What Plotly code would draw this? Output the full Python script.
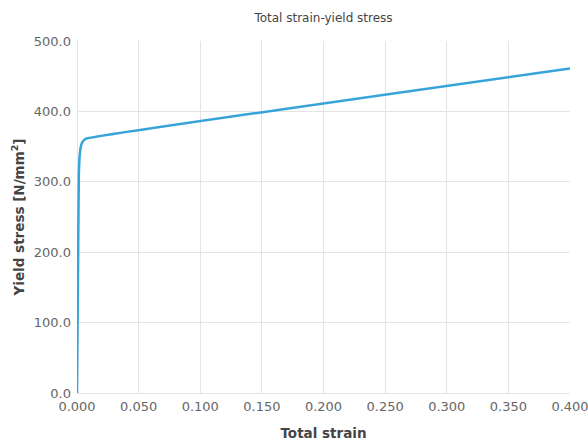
import plotly.graph_objects as go

strain = [0.0, 0.0010, 0.0015, 0.0020, 0.0025, 0.0030, 0.0040, 0.0055, 0.0070, 0.400]
stress = [0.0, 210.0, 312.0, 333.0, 343.0, 349.0, 355.0, 359.0, 361.0, 461.0]

x_ticks = [0.0, 0.05, 0.10, 0.15, 0.20, 0.25, 0.30, 0.35, 0.40]
y_ticks = [0.0, 100.0, 200.0, 300.0, 400.0, 500.0]

fig = go.Figure()
fig.add_trace(go.Scatter(x=strain, y=stress, mode="lines",
                         line=dict(color="#36a3db", width=2.5, shape="spline", smoothing=0.4),
                         showlegend=False))

font_family = "DejaVu Sans"
grid = "#e4e4e4"
fig.update_layout(
    width=588, height=441,
    margin=dict(l=77, r=18, t=41, b=48),
    paper_bgcolor="white", plot_bgcolor="white",
    font=dict(family=font_family, color="#555555", size=12),
    title=dict(text="Total strain-yield stress", x=(77 + 570) / 2 / 588, xanchor="center",
               y=1 - 18 / 441, yanchor="middle",
               font=dict(size=12, color="#444444", family=font_family)),
    xaxis=dict(range=[0, 0.4], tickvals=x_ticks, tickformat=".3f",
               showgrid=True, gridcolor=grid, gridwidth=1,
               zeroline=True, zerolinecolor=grid, zerolinewidth=1,
               showline=False, ticks="", ticklabelstandoff=4,
               ticklabeloverflow="allow", automargin=False,
               tickfont=dict(size=13, color="#666666"),
               title=dict(text="<b>Total strain</b>",
                          font=dict(size=13.5, color="#444444"))),
    yaxis=dict(range=[0, 500], tickvals=y_ticks, tickformat=".1f",
               showgrid=True, gridcolor=grid, gridwidth=1,
               zeroline=True, zerolinecolor=grid, zerolinewidth=1,
               showline=False, ticks="", ticklabelstandoff=5,
               ticklabeloverflow="allow", automargin=True,
               tickfont=dict(size=13, color="#666666"),
               title=dict(text="<b>Yield stress [N/mm<sup>2</sup>]</b>", standoff=6,
                          font=dict(size=13.5, color="#444444"))),
)

fig.write_html("out.html")
